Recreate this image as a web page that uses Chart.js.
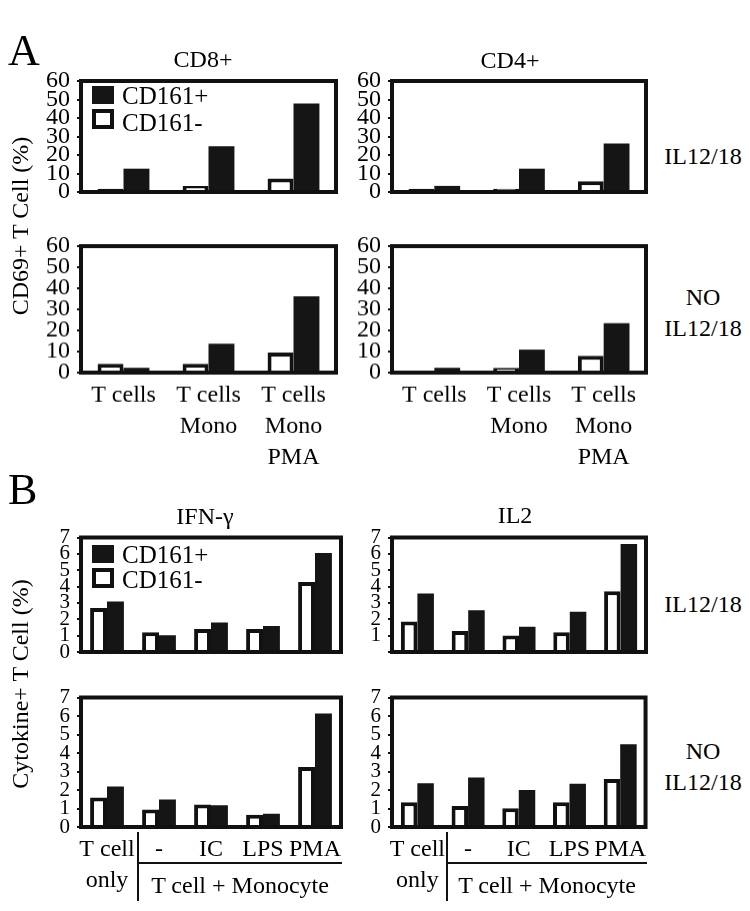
<!DOCTYPE html>
<html><head><meta charset="utf-8">
<script src="https://cdn.jsdelivr.net/npm/chart.js@4"></script>
<style>
body{margin:0;background:#fff;}
#fig{position:relative;width:750px;height:911px;overflow:hidden;font-family:"Liberation Serif","Times New Roman",serif;color:#000;background:#fff;}
.t{position:absolute;white-space:nowrap;line-height:1;}
canvas{position:absolute;}
.ln{position:absolute;background:#111;}
.sq{position:absolute;box-sizing:border-box;}
</style></head><body><div id="fig"></div>
<script>
// ---- categories / tick labels ----
const aLabels = [["T cells"], ["T cells", "Mono"], ["T cells", "Mono", "PMA"]];
const bLabels = [["T cell", "only"], "-", "IC", "LPS", "PMA"];
const seriesNames = ["CD161-", "CD161+"];
const aTicks = [0, 10, 20, 30, 40, 50, 60];
const bTicks = [0, 1, 2, 3, 4, 5, 6, 7];

// ---- A: CD69+ T cell (%) ----
const cd8Il12Neg = [1.7, 3.3, 7.3];
const cd8Il12Pos = [12.6, 24.7, 47.9];
const cd4Il12Neg = [1.7, 1.8, 5.8];
const cd4Il12Pos = [3.3, 12.6, 26.2];
const cd8NoNeg = [4.2, 4.2, 9.5];
const cd8NoPos = [2.3, 13.7, 36.2];
const cd4NoNeg = [0.3, 2.3, 8.0];
const cd4NoPos = [2.3, 10.9, 23.4];

// ---- B: Cytokine+ T cell (%) ----
const ifnIl12Neg = [2.69, 1.20, 1.41, 1.41, 4.28];
const ifnIl12Pos = [3.09, 1.02, 1.80, 1.59, 6.06];
const il2Il12Neg = [1.86, 1.29, 1.01, 1.20, 3.72];
const il2Il12Pos = [3.58, 2.55, 1.54, 2.46, 6.60];
const ifnNoNeg = [1.59, 0.95, 1.22, 0.66, 3.25];
const ifnNoPos = [2.19, 1.48, 1.17, 0.71, 6.13];
const il2NoNeg = [1.34, 1.13, 1.02, 1.34, 2.59];
const il2NoPos = [2.36, 2.67, 2.00, 2.34, 4.47];

const FONT = "'Liberation Serif', 'Times New Roman', serif";
const fig = document.getElementById('fig');

const boxPlugin = {
  id: 'box',
  afterDatasetsDraw(c) {
    const a = c.chartArea, x = c.ctx;
    x.save(); x.strokeStyle = '#111'; x.lineWidth = 4;
    x.strokeRect(a.left, a.top, a.right - a.left, a.bottom - a.top);
    x.restore();
  }
};

function panel(o) {
  const padTop = 16, padRight = 8;
  const xh = o.showX ? o.xh : 16;
  const w = (o.R - o.L) + o.yw + padRight;
  const h = (o.B - o.T) + padTop + xh;
  const cv = document.createElement('canvas');
  cv.width = w; cv.height = h;
  cv.style.left = (o.L - o.yw) + 'px'; cv.style.top = (o.T - padTop) + 'px';
  cv.style.width = w + 'px'; cv.style.height = h + 'px';
  fig.appendChild(cv);
  const ticks = o.ticks;
  new Chart(cv, {
    type: 'bar',
    data: {
      labels: o.labels,
      datasets: [
        { label: seriesNames[0], data: o.neg, backgroundColor: '#fff', borderColor: '#111', borderWidth: 4 },
        { label: seriesNames[1], data: o.pos, backgroundColor: '#151515', borderColor: '#151515', borderWidth: 0 }
      ]
    },
    options: {
      responsive: false, animation: false, devicePixelRatio: 1,
      layout: { padding: { top: padTop, right: padRight, left: 0, bottom: o.showX ? 0 : 16 } },
      plugins: { legend: { display: false }, tooltip: { enabled: false } },
      datasets: { bar: { categoryPercentage: o.cp, barPercentage: 1 } },
      scales: {
        x: {
          display: !!o.showX,
          grid: { display: false, drawTicks: false }, border: { display: false },
          ticks: { color: '#000', font: { family: FONT, size: 24, lineHeight: 1.3 }, padding: 7, maxRotation: 0, autoSkip: false },
          afterFit: s => { s.height = xh; }
        },
        y: {
          min: ticks[0], max: ticks[ticks.length - 1],
          grid: { drawOnChartArea: false, drawTicks: true, tickLength: 4, color: '#111', lineWidth: 2 },
          border: { display: false },
          ticks: {
            stepSize: ticks[1] - ticks[0], color: '#000', padding: 7, autoSkip: false,
            font: { family: FONT, size: o.tfs, lineHeight: 1 },
            callback: v => (o.hideZero && v === 0) ? '' : String(v)
          },
          afterFit: s => { s.width = o.yw; }
        }
      }
    },
    plugins: [boxPlugin]
  });
}

// A panels
panel({ L: 81, R: 336, T: 77.5, B: 208, yw: 81, labels: aLabels, neg: cd8Il12Neg, pos: cd8Il12Pos, ticks: aTicks, tfs: 24, cp: 0.61 });
panel({ L: 392, R: 646, T: 77.5, B: 208, yw: 42, labels: aLabels, neg: cd4Il12Neg, pos: cd4Il12Pos, ticks: aTicks, tfs: 24, cp: 0.61 });
panel({ L: 81, R: 336, T: 243, B: 372.5, yw: 81, labels: aLabels, neg: cd8NoNeg, pos: cd8NoPos, ticks: aTicks, tfs: 24, cp: 0.61, showX: true, xh: 100 });
panel({ L: 392, R: 646, T: 243, B: 372.5, yw: 42, labels: aLabels, neg: cd4NoNeg, pos: cd4NoPos, ticks: aTicks, tfs: 24, cp: 0.61, showX: true, xh: 100 });
// B panels
panel({ L: 81, R: 341, T: 536, B: 668, yw: 81, labels: bLabels, neg: ifnIl12Neg, pos: ifnIl12Pos, ticks: bTicks, tfs: 21, cp: 0.65 });
panel({ L: 392, R: 646, T: 536, B: 668, yw: 42, labels: bLabels, neg: il2Il12Neg, pos: il2Il12Pos, ticks: bTicks, tfs: 21, cp: 0.65, hideZero: true });
panel({ L: 81, R: 341, T: 696, B: 827, yw: 81, labels: bLabels, neg: ifnNoNeg, pos: ifnNoPos, ticks: bTicks, tfs: 21, cp: 0.65, showX: true, xh: 78 });
panel({ L: 392, R: 646, T: 696, B: 827, yw: 42, labels: bLabels, neg: il2NoNeg, pos: il2NoPos, ticks: bTicks, tfs: 21, cp: 0.65, showX: true, xh: 78 });

// ---- text helpers ----
function txt(s, x, baseline, fs, align) {
  const d = document.createElement('div');
  d.className = 't'; d.textContent = s;
  d.style.fontSize = fs + 'px';
  d.style.top = (baseline - 0.8375 * fs) + 'px';
  d.style.left = x + 'px';
  if (align === 'center') d.style.transform = 'translateX(-50%)';
  fig.appendChild(d);
  return d;
}
function vtxt(s, cx, cy, fs) {
  const d = document.createElement('div');
  d.className = 't'; d.textContent = s;
  d.style.fontSize = fs + 'px';
  d.style.left = cx + 'px'; d.style.top = cy + 'px';
  d.style.transform = 'translate(-50%,-50%) rotate(-90deg)';
  fig.appendChild(d);
}
function box(x, y, w, h, fill, border) {
  const d = document.createElement('div');
  d.className = 'sq';
  Object.assign(d.style, { left: x + 'px', top: y + 'px', width: w + 'px', height: h + 'px', background: fill });
  if (border) d.style.border = border;
  fig.appendChild(d);
}
function line(x, y, w, h) {
  const d = document.createElement('div');
  d.className = 'ln';
  Object.assign(d.style, { left: x + 'px', top: y + 'px', width: w + 'px', height: h + 'px' });
  fig.appendChild(d);
}

// section letters
txt('A', 8, 66, 44);
txt('B', 8, 505, 44);
// titles
txt('CD8+', 203, 67, 24, 'center');
txt('CD4+', 510, 68, 24, 'center');
txt('IFN-γ', 205, 524, 24, 'center');
txt('IL2', 515, 523, 24, 'center');
// right-hand condition labels
txt('IL12/18', 703, 164, 24, 'center');
txt('NO', 703, 305, 24, 'center');
txt('IL12/18', 703, 336, 24, 'center');
txt('IL12/18', 703, 612, 24, 'center');
txt('NO', 703, 759, 24, 'center');
txt('IL12/18', 703, 790, 24, 'center');
// y titles
vtxt('CD69+ T Cell (%)', 20, 226, 24);
vtxt('Cytokine+ T Cell (%)', 20, 684, 24);
// legends
box(92, 86, 22, 18, '#151515');
box(92, 109, 22, 20, '#fff', '4px solid #111');
txt(seriesNames[1], 122, 104, 25);
txt(seriesNames[0], 122, 131, 25);
box(92, 545, 22, 18, '#151515');
box(92, 568, 22, 20, '#fff', '4px solid #111');
txt(seriesNames[1], 122, 563, 25);
txt(seriesNames[0], 122, 588, 25);
// group brackets under B
line(137, 832, 2, 69); line(137, 862, 205, 2);
txt('T cell + Monocyte', 240, 893, 24, 'center');
line(446, 832, 2, 69); line(446, 862, 201, 2);
txt('T cell + Monocyte', 547, 893, 24, 'center');
</script>
</body></html>
